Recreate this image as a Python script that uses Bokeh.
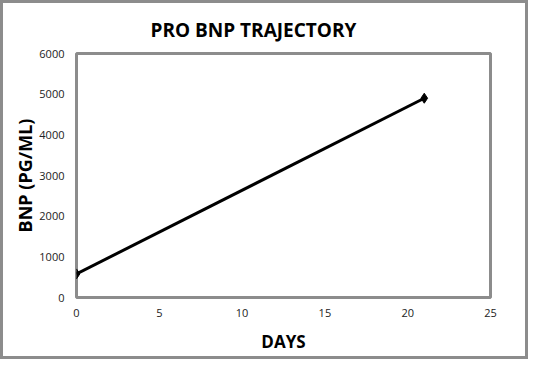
from bokeh.plotting import figure
from bokeh.embed import file_html
from bokeh.resources import INLINE
from bokeh.models import Range1d, FixedTicker

days = [0, 21]
bnp = [580, 4900]
x_ticks = [0, 5, 10, 15, 20, 25]
y_ticks = [0, 1000, 2000, 3000, 4000, 5000, 6000]
title_text = "PRO BNP TRAJECTORY"

p = figure(width=528, height=359, output_backend="svg", toolbar_location=None,
           x_range=Range1d(0, 25), y_range=Range1d(0, 6000),
           min_border_left=73, min_border_right=41, min_border_top=49, min_border_bottom=65)
p.styles = {"border": "3px solid #8c8c8c"}
p.title.text = title_text
p.title.align = "left"
p.title.text_font = "Open Sans"
p.title.text_font_style = "bold"
p.title.text_font_size = "19px"
p.title.text_color = "#000000"
p.title.offset = 74
p.title.standoff = 22
p.outline_line_color = "#8c8c8c"
p.outline_line_width = 3
p.grid.visible = False

for ax in (p.xaxis, p.yaxis):
    ax.axis_line_color = None
    ax.major_tick_line_color = None
    ax.minor_tick_line_color = None
    ax.major_tick_out = 0
    ax.major_tick_in = 0
    ax.minor_tick_out = 0
    ax.major_label_text_font = "Open Sans"
    ax.major_label_text_font_size = "11px"
    ax.major_label_text_color = "#222222"
    ax.axis_label_text_font = "Open Sans"
    ax.axis_label_text_font_style = "bold"
    ax.axis_label_text_color = "#000000"

p.xaxis.axis_label_text_font_size = "17px"
p.yaxis.axis_label_text_font_size = "18px"
p.xaxis.ticker = FixedTicker(ticks=x_ticks)
p.yaxis.ticker = FixedTicker(ticks=y_ticks)
p.xaxis.major_label_standoff = 11
p.yaxis.major_label_standoff = 12
p.xaxis.axis_label = "DAYS"
p.yaxis.axis_label = "BNP (PG/ML)"
p.xaxis.axis_label_standoff = 10
p.yaxis.axis_label_standoff = -1

p.line(days, bnp, line_color="black", line_width=3)
p.scatter(days, bnp, marker="diamond", size=10, fill_color="black", line_color="black")

open("out.html", "w").write(file_html(p, INLINE))
